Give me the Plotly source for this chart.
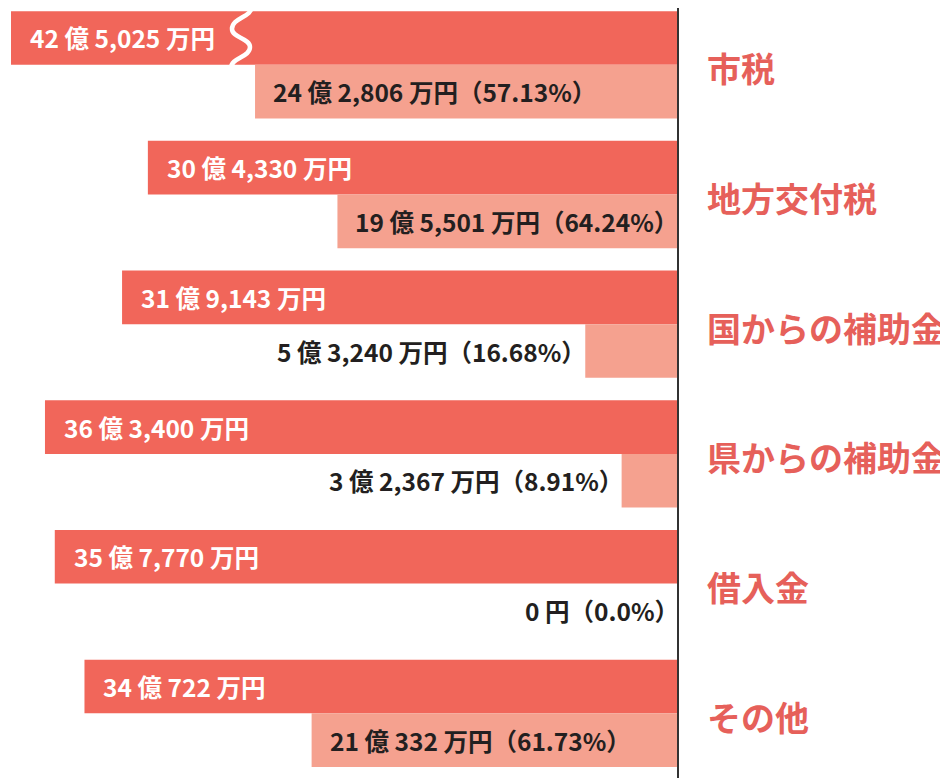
import plotly.graph_objects as go

# ---- data ----
categories = ["市税", "地方交付税", "国からの補助金", "県からの補助金", "借入金", "その他"]
budget_man = [425025, 304330, 319143, 363400, 357770, 340722]   # 万円 (dark bars)
actual_man = [242806, 195501, 53240, 32367, 0, 210332]           # 万円 (light bars)
ratio_labels = ["57.13", "64.24", "16.68", "8.91", "0.0", "61.73"]  # %

# ---- style ----
DARK = "#F1665A"
LIGHT = "#F5A18F"
CAT_COLOR = "#E6605A"
TEXT_DARK = "#231F20"
FONT = "Noto Sans CJK JP"
XMAX = 38.29          # axis range in 億円 (first bar is cut)
Y_RANGE = [5.499, -0.438]
BARGAP = 0.173
PAGE_OFF = 8          # browser body margin
W, H = 948 - PAGE_OFF, 778 - PAGE_OFF
ML, MR = 3, 270


def fmt_yen(man):
    if man == 0:
        return "0 円"
    oku, rest = divmod(man, 10000)
    parts = []
    if oku:
        parts.append(f"{oku} 億")
    if rest:
        parts.append(f"{rest:,} 万円")
    else:
        parts[-1] += "円"
    return " ".join(parts)


budget = [v / 10000 for v in budget_man]
actual = [v / 10000 for v in actual_man]

fig = go.Figure()
fig.add_trace(go.Bar(y=categories, x=budget, orientation="h", marker_color=DARK,
                     marker_line_width=0, hoverinfo="skip", name="予算"))
fig.add_trace(go.Bar(y=categories, x=actual, orientation="h", marker_color=LIGHT,
                     marker_line_width=0, hoverinfo="skip", name="実績"))

half = (1 - BARGAP) / 4
annotations = []
for i, cat in enumerate(categories):
    annotations.append(dict(
        x=min(budget[i], XMAX), y=i - half, xref="x", yref="y",
        text=fmt_yen(budget_man[i]), showarrow=False, xanchor="left", xshift=17,
        font=dict(family=FONT, size=24.5, color="white", weight=700)))
    txt = f"{fmt_yen(actual_man[i])}（{ratio_labels[i]}%）"
    inside = actual[i] > 10
    annotations.append(dict(
        x=actual[i], y=i + half, xref="x", yref="y", text=txt, showarrow=False,
        xanchor="left" if inside else "right", xshift=16 if inside else 3,
        font=dict(family=FONT, size=24.5, color=TEXT_DARK, weight=700)))
    annotations.append(dict(
        x=1, y=i, xref="paper", yref="y", text=cat, showarrow=False,
        xanchor="left", xshift=27, yshift=-3,
        font=dict(family=FONT, size=34, color=CAT_COLOR, weight=700)))

# break mark on the first (cut) bar, positions in page pixels -> paper coords
pw, ph = W - ML - MR, H
def px(xp, yp):
    xp -= PAGE_OFF
    yp -= PAGE_OFF
    return f"{(xp - ML) / pw:.5f},{1 - yp / ph:.5f}"

pts = [(252, 6), (232, 29), (250, 47), (231, 68)]
path = "M " + px(*pts[0])
for (x0, y0), (x1, y1) in zip(pts[:-1], pts[1:]):
    ym = (y0 + y1) / 2
    path += f" C {px(x0, ym)} {px(x1, ym)} {px(x1, y1)}"

shapes = [
    dict(type="path", path=path, xref="paper", yref="paper",
         line=dict(color="white", width=4.5), layer="above"),
    dict(type="line", xref="paper", yref="paper", x0=1, x1=1,
         y0=1, y1=0, line=dict(color="#333333", width=2), layer="above"),
]

fig.update_layout(
    width=W, height=H,
    margin=dict(l=ML, r=MR, t=0, b=0),
    barmode="group", bargap=BARGAP, bargroupgap=0,
    plot_bgcolor="white", paper_bgcolor="white",
    showlegend=False,
    xaxis=dict(range=[XMAX, 0], visible=False, fixedrange=True),
    yaxis=dict(type="category", range=Y_RANGE, visible=False, fixedrange=True),
    annotations=annotations, shapes=shapes,
    font=dict(family=FONT),
)

fig.write_html("out.html")
